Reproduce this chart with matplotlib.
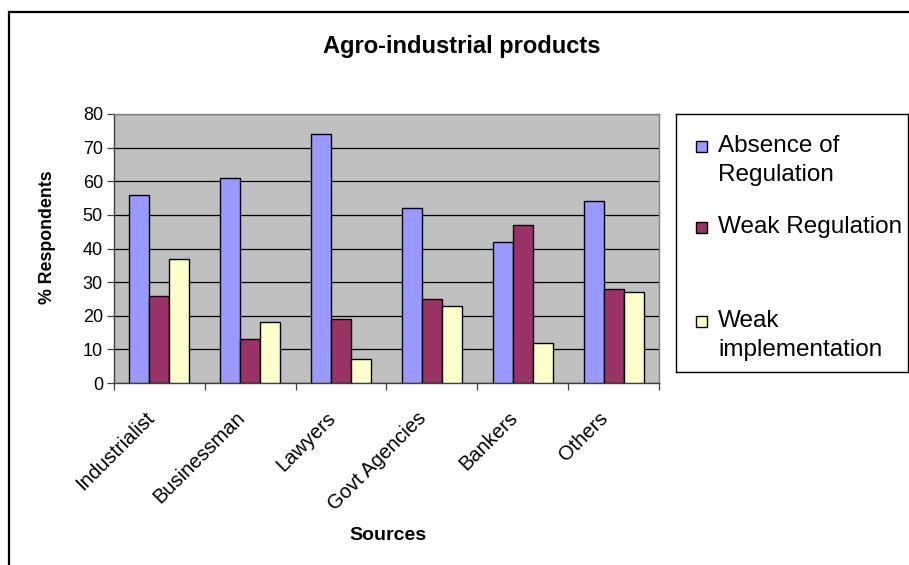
import matplotlib
matplotlib.use("Agg")
import matplotlib.pyplot as plt
import matplotlib.patches as mpatches
import numpy as np

plt.rcParams['font.family'] = ['Liberation Sans', 'DejaVu Sans']

categories = ["Industrialist", "Businessman", "Lawyers", "Govt Agencies", "Bankers", "Others"]
series_names = ["Absence of\nRegulation", "Weak Regulation", "Weak\nimplementation"]
absence_of_regulation = [56, 61, 74, 52, 42, 54]
weak_regulation = [26, 13, 19, 25, 47, 28]
weak_implementation = [37, 18, 7, 23, 12, 27]
y_ticks = [0, 10, 20, 30, 40, 50, 60, 70, 80]

colors = ["#9999FF", "#993366", "#FFFFCC"]
series = [absence_of_regulation, weak_regulation, weak_implementation]

W, H = 909, 565
fig = plt.figure(figsize=(W / 100, H / 100), dpi=100)
fig.patch.set_facecolor("white")

# outer chart frame
frame = mpatches.Rectangle((9 / W, -0.1), 1.2, 1.1 - 12 / H, transform=fig.transFigure,
                           fill=False, edgecolor="black", linewidth=1.6)
fig.patches.append(frame)

left, right, top, bottom = 114, 659, 114, 383
ax = fig.add_axes([left / W, 1 - bottom / H, (right - left) / W, (bottom - top) / H])
ax.set_facecolor("#C0C0C0")

x = np.arange(len(categories))
bw = 0.22
bars = []
for i, (vals, c) in enumerate(zip(series, colors)):
    b = ax.bar(x + (i - 1) * bw, vals, width=bw, color=c, edgecolor="black",
               linewidth=1.0, zorder=3)
    bars.append(b)

ax.set_xlim(-0.5, len(categories) - 0.5)
ax.set_ylim(0, 80)
ax.set_yticks(y_ticks)
ax.set_yticklabels([str(t) for t in y_ticks], fontsize=13)
ax.yaxis.grid(True, color="black", linewidth=0.9, zorder=1)
ax.set_axisbelow(True)

# category boundary ticks
ax.set_xticks(np.arange(-0.5, len(categories) + 0.5, 1.0))
ax.set_xticklabels([])
ax.tick_params(axis="x", length=5, width=0.9, color="#404040")
ax.tick_params(axis="y", length=5, width=0.9, color="#404040", pad=3)

for s in ["top", "right"]:
    ax.spines[s].set_color("#808080")
    ax.spines[s].set_linewidth(1.0)
for s in ["left", "bottom"]:
    ax.spines[s].set_color("#404040")
    ax.spines[s].set_linewidth(1.0)

for xi, name in zip(x, categories):
    ax.annotate(name, xy=(xi, 0), xycoords=("data", "axes fraction"),
                xytext=(-6, -23), textcoords="offset points",
                rotation=45, rotation_mode="anchor", ha="right", va="center",
                fontsize=14.5)

fig.text(462 / W, 1 - 47 / H, "Agro-industrial products", ha="center", va="center",
         fontsize=17, fontweight="bold")
fig.text(48 / W, 1 - 237 / H, "% Respondents", ha="center", va="center",
         rotation=90, fontsize=12.8, fontweight="bold")
fig.text(388 / W, 1 - 535 / H, "Sources", ha="center", va="center",
         fontsize=14, fontweight="bold")

# legend panel
lg_l, lg_r, lg_t, lg_b = 676, 908, 114, 372
lax = fig.add_axes([lg_l / W, 1 - lg_b / H, (lg_r - lg_l) / W, (lg_b - lg_t) / H])
lax.set_xlim(lg_l, lg_r)
lax.set_ylim(lg_b, lg_t)
lax.set_xticks([])
lax.set_yticks([])
lax.set_facecolor("white")
for s in lax.spines.values():
    s.set_color("black")
    s.set_linewidth(1.0)

entry_y = [146, 227, 321]
for b, name, yy in zip(bars, series_names, entry_y):
    fc = b.patches[0].get_facecolor()
    lax.add_patch(mpatches.Rectangle((696, yy - 5.5), 11, 11, facecolor=fc,
                                     edgecolor="black", linewidth=1.0))
    lax.text(718, yy - 11, name, ha="left", va="top", fontsize=17.5,
             linespacing=1.42)

fig.savefig("out.png", dpi=100)
